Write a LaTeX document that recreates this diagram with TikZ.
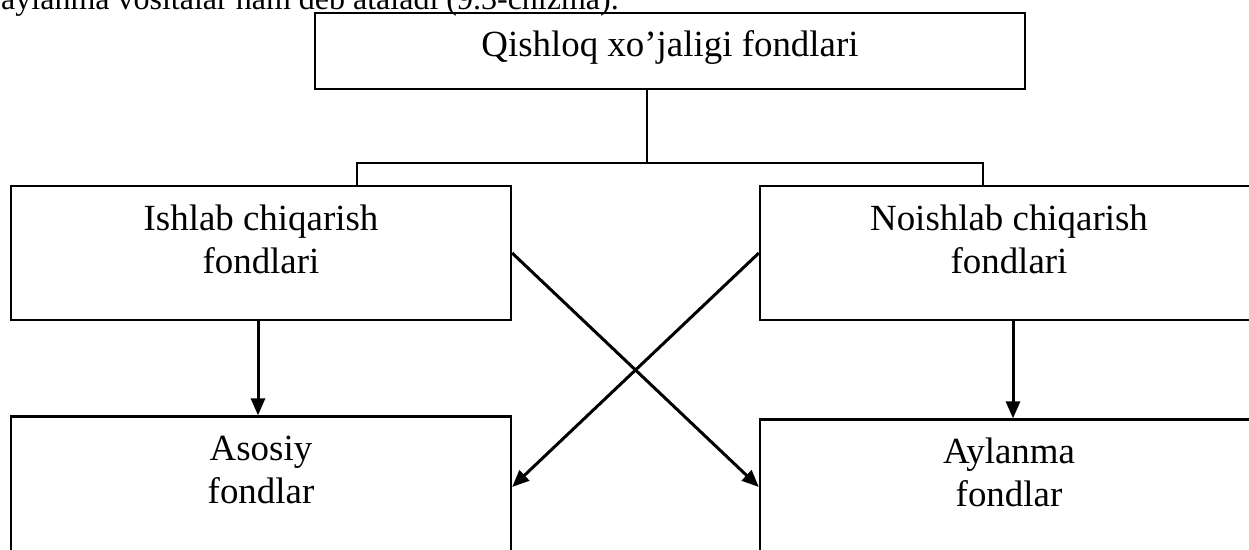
\documentclass[tikz,border=0pt]{standalone}
\usepackage{fontspec}
\setmainfont{Liberation Serif}
\usetikzlibrary{arrows.meta}
\begin{document}
\begin{tikzpicture}[x=1pt,y=-1pt,
  box/.style={draw, line width=2.3pt, rectangle, inner sep=0pt},
  lbl/.style={font=\fontsize{36.9}{43}\selectfont, inner sep=0pt, anchor=base},
  conn/.style={line width=2.3pt},
  arr/.style={line width=3pt, -{Triangle[length=17pt,width=14pt]}},
]
\useasboundingbox (0,0) rectangle (1249,549);
\clip (0,0) rectangle (1249,549);

\node[anchor=base west, inner sep=0pt, font=\fontsize{32}{38}\selectfont] (intro) at (1,9) {aylanma vositalar ham deb ataladi (9.3-chizma).};

\node[box, minimum width=710pt, minimum height=76pt] (top) at (670,51) {};
\node[box, minimum width=500pt, minimum height=134pt] (ish) at (261,253) {};
\node[box, minimum width=498pt, minimum height=134pt] (noi) at (1009,253) {};
\node[box, minimum width=500pt, minimum height=184pt] (aso) at (261,508.5) {};
\node[box, minimum width=498pt, minimum height=181pt] (ayl) at (1009,510) {};

\node[lbl] (topT) at ([yshift=-45pt]top.north) {Qishloq xo’jaligi fondlari};
\node[lbl] (ishT1) at ([yshift=-45.5pt]ish.north) {Ishlab chiqarish};
\node[lbl] (ishT2) at ([yshift=-88.5pt]ish.north) {fondlari};
\node[lbl] (noiT1) at ([yshift=-45.5pt]noi.north) {Noishlab chiqarish};
\node[lbl] (noiT2) at ([yshift=-88.5pt]noi.north) {fondlari};
\node[lbl] (asoT1) at ([yshift=-45pt]aso.north) {Asosiy};
\node[lbl] (asoT2) at ([yshift=-88pt]aso.north) {fondlar};
\node[lbl] (aylT1) at ([yshift=-45pt]ayl.north) {Aylanma};
\node[lbl] (aylT2) at ([yshift=-88pt]ayl.north) {fondlar};

\coordinate (barL) at (357,163);
\coordinate (barM) at (647,163);
\coordinate (barR) at (983,163);
\coordinate (xlev) at (0,487);

\draw[conn] (top.south -| barM) -- (barM);
\draw[conn] (ish.north -| barL) -- (barL) -- (barR) -- (noi.north -| barR);

\draw[arr] ([xshift=-3pt]ish.south) -- ([xshift=-3pt]aso.north);
\draw[arr] ([xshift=4pt]noi.south) -- ([xshift=4pt]ayl.north);
\draw[arr] (ish.east) -- (ayl.west |- xlev);
\draw[arr] (noi.west) -- (aso.east |- xlev);
\end{tikzpicture}
\end{document}
